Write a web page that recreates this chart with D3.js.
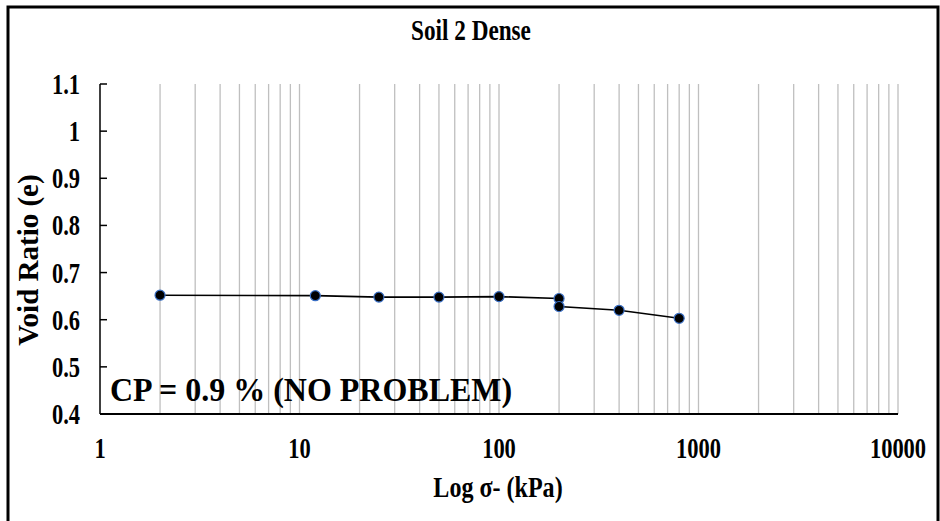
<!DOCTYPE html>
<html>
<head>
<meta charset="utf-8">
<style>
  body { margin: 0; background: #fff; }
  text { font-family: "Liberation Serif", "Times New Roman", serif; font-weight: bold; fill: #000; }
</style>
</head>
<body>
<svg width="940" height="521"></svg>
<script src="https://d3js.org/d3.v7.min.js"></script>
<script>

// data
var stress = [2, 12, 25, 50, 100, 200, 200, 400, 800],
    voidRatio = [0.652, 0.651, 0.648, 0.648, 0.649, 0.645, 0.628, 0.620, 0.603];

var xTicks = [1, 10, 100, 1000, 10000],
    yTicks = [0.4, 0.5, 0.6, 0.7, 0.8, 0.9, 1, 1.1];

var title = "Soil 2 Dense",
    xTitle = "Log σ- (kPa)",
    yTitle = "Void Ratio (e)",
    note = "CP = 0.9 % (NO PROBLEM)";

var svg = d3.select("svg"),
    plotL = 100, plotR = 898, plotT = 84, plotB = 414;

var x = d3.scaleLog().domain([1, 10000]).range([plotL, plotR]),
    y = d3.scaleLinear().domain([0.4, 1.1]).range([plotB, plotT]);

// outer frame (bottom edge cut off in the picture)
svg.append("rect")
    .attr("x", 8).attr("y", 7)
    .attr("width", 930).attr("height", 540)
    .attr("fill", "none").attr("stroke", "#000").attr("stroke-width", 3);

// vertical grid at every minor log step
var grid = [];
x.ticks().forEach(function(t) { if (t > 1) grid.push(t); });
svg.append("g").selectAll("line")
    .data(grid)
  .enter().append("line")
    .attr("x1", function(d) { return x(d); })
    .attr("x2", function(d) { return x(d); })
    .attr("y1", plotT).attr("y2", plotB)
    .attr("stroke", "#bfbfbf").attr("stroke-width", 1.3);

// axes
svg.append("line")
    .attr("x1", plotL).attr("x2", plotL).attr("y1", plotT).attr("y2", plotB)
    .attr("stroke", "#000").attr("stroke-width", 1.5);
svg.append("line")
    .attr("x1", plotL).attr("x2", plotR).attr("y1", plotB).attr("y2", plotB)
    .attr("stroke", "#000").attr("stroke-width", 2);

svg.append("g").selectAll("line")
    .data(yTicks)
  .enter().append("line")
    .attr("x1", plotL).attr("x2", plotL + 7)
    .attr("y1", function(d) { return y(d); })
    .attr("y2", function(d) { return y(d); })
    .attr("stroke", "#000").attr("stroke-width", 1.5);

function label(px, py, str, size, anchor, sx, rot) {
  return svg.append("text")
      .attr("transform", "translate(" + px + "," + py + ")" + (rot ? " rotate(" + rot + ")" : "") + " scale(" + sx + ",1)")
      .attr("text-anchor", anchor)
      .style("font-size", size + "px")
      .text(str);
}

yTicks.forEach(function(t) {
  label(80, y(t) + 10, d3.format("")(t), 30, "end", 0.75);
});
xTicks.forEach(function(t) {
  label(x(t), 458, t, 30, "middle", 0.75);
});

label(471, 40, title, 29, "middle", 0.8);
label(498, 497, xTitle, 29, "middle", 0.83);
label(38, 260, yTitle, 29, "middle", 1, -90);
label(110, 401, note, 33, "start", 0.97);

// curve
var pts = stress.map(function(s, i) { return [s, voidRatio[i]]; });

svg.append("path")
    .datum(pts)
    .attr("fill", "none")
    .attr("stroke", "#000")
    .attr("stroke-width", 1.6)
    .attr("d", d3.line()
        .x(function(d) { return x(d[0]); })
        .y(function(d) { return y(d[1]); }));

svg.append("g").selectAll("circle")
    .data(pts)
  .enter().append("circle")
    .attr("cx", function(d) { return x(d[0]); })
    .attr("cy", function(d) { return y(d[1]); })
    .attr("r", 5)
    .attr("fill", "#000")
    .attr("stroke", "#3a6fc4")
    .attr("stroke-width", 1.2);

</script>
</body>
</html>
